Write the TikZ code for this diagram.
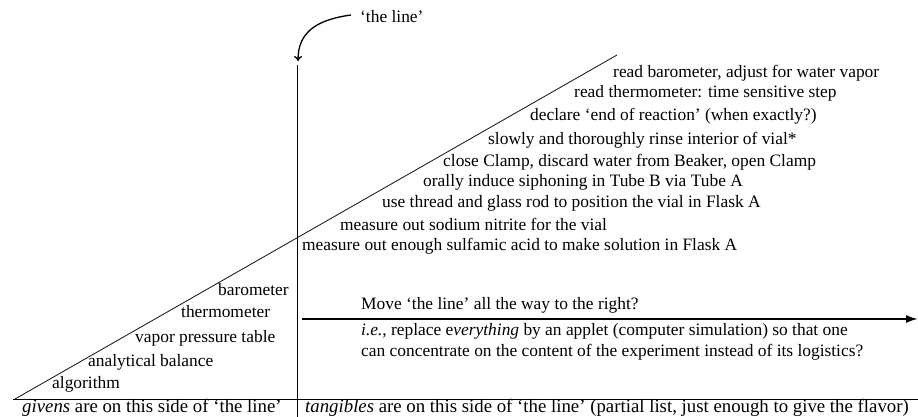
\documentclass[tikz,border=0pt]{standalone}
\usepackage{fontspec}
\setmainfont{Liberation Serif}
\usetikzlibrary{positioning,arrows.meta}

\begin{document}
\begin{tikzpicture}[x=1pt,y=-1pt,
    font=\fontsize{17.4}{20}\selectfont,
    item/.style={anchor=west,inner sep=0pt},
    caption/.style={item,font=\fontsize{18.8}{22}\selectfont},
    thin line/.style={line width=0.8pt},
    move arrow/.style={line width=2pt,-{Latex[length=12pt,width=8pt]}}]
  \useasboundingbox (0,0) rectangle (918,417);
  % the line itself and its pointer
  \coordinate (vtop) at (297,65);
  \coordinate (vbot) at (297,417);
  \node[item] (theline) at (360,17) {‘the line’};
  \coordinate (tip) at (298,61);
  \draw[line width=1.3pt,-{To[length=5pt,width=8pt]}] ([xshift=-9pt,yshift=2pt]theline.west) .. controls (314,20) and (298,34) .. (tip);
  \draw[thin line] (vtop) -- (vbot);
  % diagonal and bottom rule
  \coordinate (dlow) at (15,399);
  \coordinate (dhigh) at (617,55);
  \draw[thin line] (dlow) -- (dhigh);
  \coordinate (rleft) at (13,399);
  \coordinate (rright) at (918,399);
  \draw[thin line] (rleft) -- (rright);
  % givens
  \node[item] (baro) at (218,290) {barometer};
  \node[item] (thermo) at (181,312) {thermometer};
  \node[item] (vapor) at (135,338) {vapor pressure table};
  \node[item] (balance) at (88,362) {analytical balance};
  \node[item] (algo) at (52,384) {algorithm};
  % tangibles
  \node[item] (s9) at (613,73) {read barometer, adjust for water vapor};
  \node[item] (s8) at (574,93) {read thermometer: time sensitive step};
  \node[item] (s7) at (530,116) {declare ‘end of reaction’ (when exactly?)};
  \node[item] (s6) at (488,140) {slowly and thoroughly rinse interior of vial*};
  \node[item] (s5) at (443,162) {close Clamp, discard water from Beaker, open Clamp};
  \node[item] (s4) at (423,182) {orally induce siphoning in Tube B via Tube A};
  \node[item] (s3) at (382,203) {use thread and glass rod to position the vial in Flask A};
  \node[item] (s2) at (340,224) {measure out sodium nitrite for the vial};
  \node[item] (s1) at (302,246) {measure out enough sulfamic acid to make solution in Flask A};
  % moving the line
  \coordinate (mstart) at (302,319);
  \coordinate (mend) at (918,319);
  \draw[move arrow] (mstart) -- (mend);
  \node[item] (move) at (361,305) {Move ‘the line’ all the way to the right?};
  \node[item] (ie) at (361,331) {\textit{i.e.}, replace e\textit{verything} by an applet (computer simulation) so that one};
  \node[item] (ie2) at (361,352) {can concentrate on the content of the experiment instead of its logistics?};
  % captions
  \node[caption] (givens) at (22,408) {\textit{givens} are on this side of ‘the line’};
  \node[caption] (tangibles) at (305,408) {\textit{tangibles} are on this side of ‘the line’ (partial list, just enough to give the flavor)};
\end{tikzpicture}
\end{document}
